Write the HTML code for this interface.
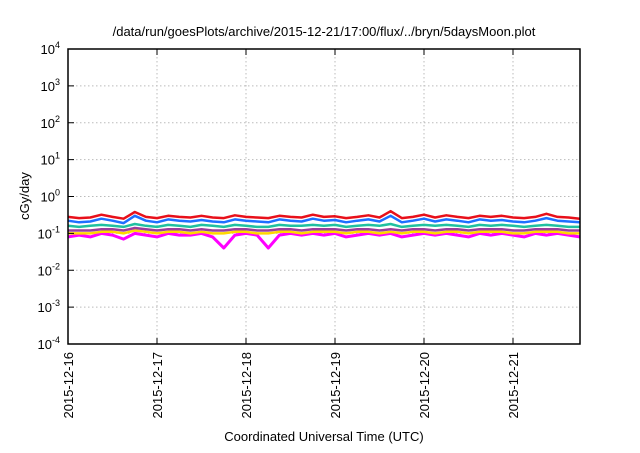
<!DOCTYPE html>
<html><head><meta charset="utf-8"><style>
body{margin:0;background:#fff;font-family:"Liberation Sans",sans-serif}
svg text{font-family:"Liberation Sans",sans-serif;fill:#000}
</style></head><body>
<svg id="chart" width="640" height="448" viewBox="0 0 640 448" xmlns="http://www.w3.org/2000/svg">
<text x="324" y="36" font-size="13" text-anchor="middle">/data/run/goesPlots/archive/2015-12-21/17:00/flux/../bryn/5daysMoon.plot</text>
<g id="grid"></g><g id="series"></g><g id="axes"></g>
<text transform="translate(29,196) rotate(-90)" font-size="13" text-anchor="middle">cGy/day</text>
<text x="324" y="441" font-size="13" text-anchor="middle">Coordinated Universal Time (UTC)</text>
</svg>
<script>
const hours=[0,3,6,9,12,15,18,21,24,27,30,33,36,39,42,45,48,51,54,57,60,63,66,69,72,75,78,81,84,87,90,93,96,99,102,105,108,111,114,117,120,123,126,129,132,135,138];
const dayLabels=["2015-12-16","2015-12-17","2015-12-18","2015-12-19","2015-12-20","2015-12-21"];
const decades=[-4,-3,-2,-1,0,1,2,3,4];
const seriesColors=["#ff00ff","#ffd700","#9b3d9b","#20c0a0","#1e6fff","#e8101a"];
const magenta=[0.08,0.09,0.08,0.1,0.09,0.07,0.1,0.09,0.08,0.1,0.09,0.09,0.1,0.08,0.04,0.09,0.1,0.09,0.04,0.09,0.1,0.09,0.1,0.09,0.1,0.08,0.09,0.1,0.09,0.1,0.08,0.09,0.1,0.09,0.1,0.09,0.08,0.1,0.09,0.1,0.09,0.08,0.1,0.09,0.1,0.09,0.08];
const yellow=[0.1,0.1,0.1,0.11,0.11,0.1,0.12,0.11,0.1,0.11,0.11,0.1,0.11,0.1,0.1,0.11,0.11,0.1,0.1,0.11,0.11,0.1,0.11,0.11,0.11,0.1,0.11,0.11,0.1,0.11,0.1,0.11,0.11,0.1,0.11,0.11,0.1,0.11,0.11,0.11,0.1,0.1,0.11,0.11,0.11,0.1,0.1];
const purple=[0.12,0.12,0.12,0.13,0.13,0.12,0.14,0.13,0.12,0.13,0.13,0.12,0.13,0.12,0.12,0.13,0.13,0.12,0.12,0.13,0.13,0.12,0.13,0.13,0.13,0.12,0.13,0.13,0.12,0.13,0.12,0.13,0.13,0.12,0.13,0.13,0.12,0.13,0.13,0.13,0.12,0.12,0.13,0.13,0.13,0.12,0.12];
const teal=[0.16,0.15,0.16,0.17,0.16,0.15,0.18,0.16,0.15,0.17,0.16,0.15,0.17,0.16,0.15,0.17,0.16,0.15,0.15,0.17,0.16,0.16,0.17,0.16,0.17,0.15,0.16,0.17,0.16,0.18,0.15,0.16,0.17,0.16,0.17,0.16,0.15,0.17,0.16,0.17,0.16,0.15,0.16,0.17,0.16,0.15,0.15];
const blue=[0.22,0.2,0.21,0.25,0.22,0.19,0.3,0.22,0.2,0.24,0.22,0.21,0.23,0.21,0.2,0.24,0.22,0.21,0.2,0.24,0.22,0.21,0.25,0.22,0.23,0.2,0.22,0.24,0.21,0.3,0.2,0.22,0.25,0.21,0.24,0.22,0.2,0.24,0.22,0.23,0.21,0.2,0.22,0.26,0.22,0.21,0.2];
const red=[0.28,0.26,0.27,0.32,0.28,0.25,0.38,0.28,0.26,0.3,0.28,0.27,0.3,0.27,0.26,0.31,0.28,0.27,0.26,0.3,0.28,0.27,0.32,0.28,0.29,0.26,0.28,0.31,0.27,0.4,0.26,0.28,0.32,0.27,0.31,0.28,0.26,0.3,0.28,0.3,0.27,0.26,0.28,0.34,0.28,0.27,0.25];
const allSeries=[magenta,yellow,purple,teal,blue,red];
const names=["series-magenta","series-yellow","series-purple","series-teal","series-blue","series-red"];
const L=68,R=580,T=49,B=344,pxPerDay=89;
const xs=h=>L+h/24*pxPerDay;
const ys=v=>B-(Math.log10(v)+4)*(B-T)/8;
const NS="http://www.w3.org/2000/svg";
function mk(t,a,p){const e=document.createElementNS(NS,t);for(const k in a)e.setAttribute(k,a[k]);p.appendChild(e);return e;}
const grid=document.getElementById('grid'),axes=document.getElementById('axes'),ser=document.getElementById('series');
decades.forEach(d=>{const y=ys(Math.pow(10,d));
 if(d>-4&&d<4){const g=mk('line',{x1:L,x2:R,y1:y,y2:y,stroke:'#bbb','stroke-dasharray':'1.5,2.5','stroke-width':1},grid);
 
 }
 const tk=mk('line',{x1:L,x2:L+6,y1:y,y2:y,stroke:'#000'},axes);
 
 
 const t=mk('text',{x:L-8,y:y+5,'font-size':13,'text-anchor':'end'},axes);
 
 
 t.textContent='10';const s=mk('tspan',{dy:-6,'font-size':9},t);s.textContent=String(d);});
dayLabels.forEach((lab,i)=>{const x=L+i*pxPerDay;
 if(i>0){const g=mk('line',{x1:x,x2:x,y1:T,y2:B,stroke:'#bbb','stroke-dasharray':'1.5,2.5','stroke-width':1},grid);
 
 }
 const tk=mk('line',{x1:x,x2:x,y1:B,y2:B-6,stroke:'#000'},axes);
 
 
 const tk2=mk('line',{x1:x,x2:x,y1:T,y2:T+6,stroke:'#000'},axes);
 
 
 const t=mk('text',{transform:`translate(${x+5},${B+8}) rotate(-90)`,'font-size':13,'text-anchor':'end'},axes);
 
 
 t.textContent=lab;});
allSeries.forEach((arr,si)=>{const pts=arr.map((v,i)=>xs(hours[i]).toFixed(1)+','+ys(v).toFixed(1)).join(' ');
 const p=mk('polyline',{points:pts,fill:'none',stroke:seriesColors[si],'stroke-width':si==0?3:2.5,'stroke-linejoin':'round'},ser);
 
 });
const fr=mk('rect',{x:L,y:T,width:R-L,height:B-T,fill:'none',stroke:'#000','stroke-width':1.5},axes);


</script>
</body></html>
